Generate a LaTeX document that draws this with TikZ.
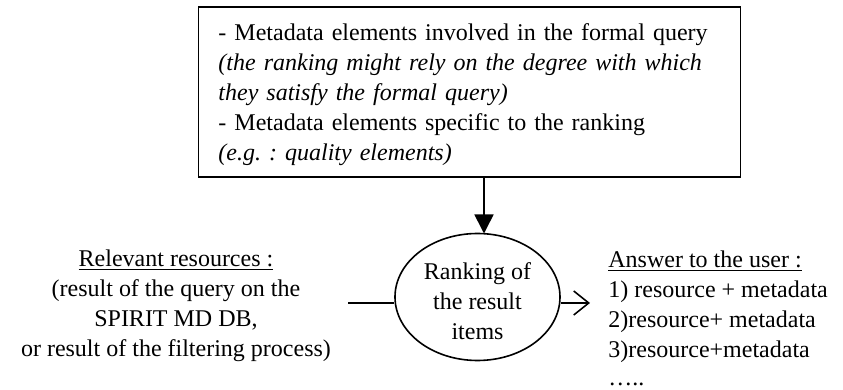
\documentclass[tikz,border=0pt]{standalone}
\usepackage{fontspec}
\setmainfont{Liberation Serif}
\usetikzlibrary{arrows.meta,shapes.geometric}
\frenchspacing
\begin{document}
\begin{tikzpicture}[x=0.5pt,y=-0.5pt,
  every node/.style={font=\fontsize{12pt}{15pt}\selectfont},
  ln/.style={line width=0.8pt, draw=black},
  infobox/.style={draw, line width=0.9pt, minimum width=271pt, minimum height=85pt,
     text width=251pt, inner xsep=10pt, align=left},
  proc/.style={draw, ellipse, line width=0.8pt, minimum width=82.5pt, minimum height=63.5pt,
     inner sep=0pt, align=center},
  plain/.style={inner sep=0pt}
]
\useasboundingbox (0,0) rectangle (843,390);

\node[infobox] (box) at (469.5,92) {\rule{0pt}{11pt}- Metadata elements involved in the formal query\\
\textit{(the ranking might rely on the degree with which they satisfy the formal query)}\\
- Metadata elements specific to the ranking\\
\textit{(e.g. : quality elements)}};

\node[proc] (rank) at (477.5,297) {\rule{0pt}{13pt}Ranking of\\the result\\items};

\node[plain, align=center] (rel) at (176,306) {\underline{Relevant resources :}\\
(result of the query on the\\SPIRIT MD DB,\\or result of the filtering process)};

\node[plain, align=left, anchor=north west] (ans) at (608,250) {\underline{Answer to the user :}\\
1) resource + metadata\\2)resource+ metadata\\3)resource+metadata\\[-1pt]
…..};

\coordinate (top) at (484,233.5);
\coordinate (lin) at (348,303);
\coordinate (out) at (590,303);

\draw[ln, -{Triangle[length=9.5pt,width=9.5pt]}] (box.south -| top) -- (top);
\draw[ln] (lin) -- (rank.west |- lin);
\draw[ln, -{Straight Barb[length=7.5pt,width=12pt,line width=0.8pt]}] (rank.east |- out) -- (out);
\end{tikzpicture}
\end{document}
